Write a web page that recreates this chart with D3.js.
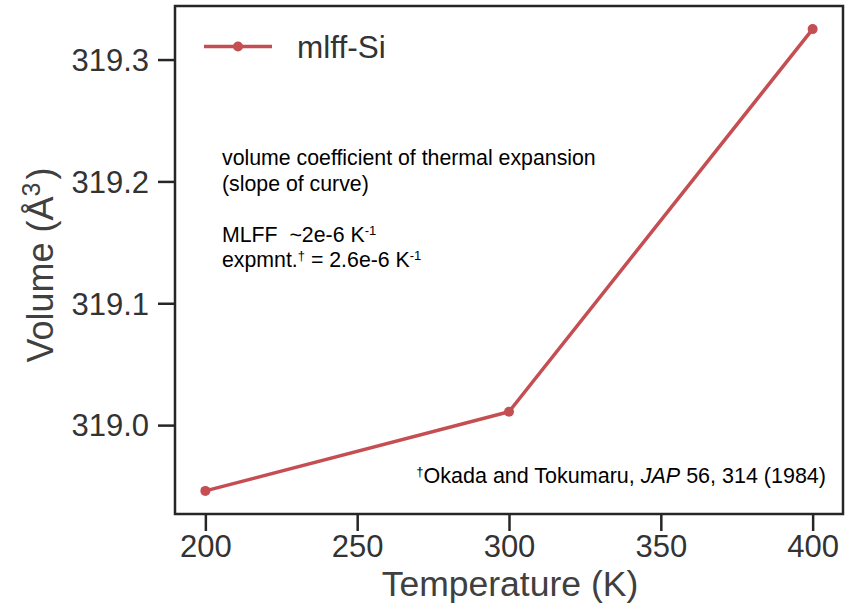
<!DOCTYPE html>
<html>
<head>
<meta charset="utf-8">
<script src="https://cdn.jsdelivr.net/npm/d3@7"></script>
<style>
  body { margin: 0; background: #fff; }
  text { font-family: "Liberation Sans", Arial, sans-serif; }
</style>
</head>
<body>
<svg id="chart"></svg>
<script>
// data
var temps = [200, 300, 400];
var volumes = [318.946, 319.011, 319.325];
var xTicks = [200, 250, 300, 350, 400];
var yTicks = [319.0, 319.1, 319.2, 319.3];
var seriesName = "mlff-Si";

var config = { w: 850, h: 607, l: 175, t: 6, r: 843, b: 514 };
var red = "#c44e52", ink = "#262626";

var svg = d3.select("#chart").attr("width", config.w).attr("height", config.h);

// matplotlib-like 5% margins
var x = d3.scaleLinear().domain([190, 410]).range([config.l, config.r]);
var yPad = (d3.max(volumes) - d3.min(volumes)) * 0.05;
var y = d3.scaleLinear()
  .domain([d3.min(volumes) - yPad, d3.max(volumes) + yPad])
  .range([config.b, config.t]);

var xAxis = d3.axisBottom(x).tickValues(xTicks).tickSize(17).tickPadding(4).tickFormat(d3.format("d"));
var yAxis = d3.axisLeft(y).tickValues(yTicks).tickSize(17).tickPadding(9).tickFormat(d3.format(".1f"));

var gx = svg.append("g").attr("transform", "translate(0," + config.b + ")").call(xAxis);
var gy = svg.append("g").attr("transform", "translate(" + config.l + ",0)").call(yAxis);
[gx, gy].forEach(function(g) {
  g.select(".domain").remove();
  g.selectAll(".tick line").attr("stroke", ink).attr("stroke-width", 2.5);
  g.selectAll(".tick text").attr("fill", "#333").style("font-size", "31px");
});
gy.selectAll(".tick text").attr("dy", "0.35em");

// frame
svg.append("rect")
  .attr("x", config.l).attr("y", config.t)
  .attr("width", config.r - config.l).attr("height", config.b - config.t)
  .attr("fill", "none").attr("stroke", ink).attr("stroke-width", 2.5);

// series
var pts = temps.map(function(t, i) { return { t: t, v: volumes[i] }; });
var line = d3.line().x(function(d) { return x(d.t); }).y(function(d) { return y(d.v); });
svg.append("path").datum(pts).attr("d", line)
  .attr("fill", "none").attr("stroke", red).attr("stroke-width", 3.5)
  .attr("stroke-linejoin", "round");
svg.selectAll("circle.pt").data(pts).enter().append("circle")
  .attr("class", "pt").attr("cx", function(d) { return x(d.t); })
  .attr("cy", function(d) { return y(d.v); }).attr("r", 5).attr("fill", red);

// legend
var leg = svg.append("g").attr("transform", "translate(204,46.5)");
leg.append("line").attr("x1", 0).attr("x2", 68).attr("y1", 0).attr("y2", 0)
  .attr("stroke", red).attr("stroke-width", 3.5);
leg.append("circle").attr("cx", 34).attr("cy", 0).attr("r", 5).attr("fill", red);
leg.append("text").attr("x", 93).attr("y", 11).attr("fill", "#333")
  .style("font-size", "31.5px").text(seriesName);

// axis labels
svg.append("text").attr("x", (config.l + config.r) / 2 + 1).attr("y", 596)
  .attr("text-anchor", "middle").attr("fill", "#404040").style("font-size", "35.5px")
  .text("Temperature (K)");
var yl = svg.append("text")
  .attr("transform", "translate(53,265) rotate(-90)")
  .attr("text-anchor", "middle").attr("fill", "#404040").style("font-size", "36px");
yl.append("tspan").text("Volume (Å");
yl.append("tspan").attr("dy", -13).style("font-size", "25px").text("3");
yl.append("tspan").attr("dy", 13).attr("dx", 3).text(")");

// annotation
var note = svg.append("g").attr("fill", "#000").style("font-size", "21.3px");
note.append("text").attr("x", 222).attr("y", 165).text("volume coefficient of thermal expansion");
note.append("text").attr("x", 222).attr("y", 191).text("(slope of curve)");
var l3 = note.append("text").attr("x", 222).attr("y", 242).attr("xml:space", "preserve");
l3.append("tspan").text("MLFF  ~2e-6 K");
l3.append("tspan").attr("dy", -7).style("font-size", "13px").text("-1");
var l4 = note.append("text").attr("x", 222).attr("y", 267);
l4.append("tspan").text("expmnt.");
l4.append("tspan").attr("dy", -7).style("font-size", "13px").text("†");
l4.append("tspan").attr("dy", 7).text(" = 2.6e-6 K");
l4.append("tspan").attr("dy", -7).style("font-size", "13px").text("-1");

var fn = svg.append("text").attr("x", 826).attr("y", 483).attr("text-anchor", "end")
  .attr("fill", "#000").style("font-size", "21.5px");
fn.append("tspan").attr("dy", -7).style("font-size", "13px").text("†");
fn.append("tspan").attr("dy", 7).text("Okada and Tokumaru, ");
fn.append("tspan").style("font-style", "italic").text("JAP");
fn.append("tspan").text(" 56, 314 (1984)");
</script>
</body>
</html>
